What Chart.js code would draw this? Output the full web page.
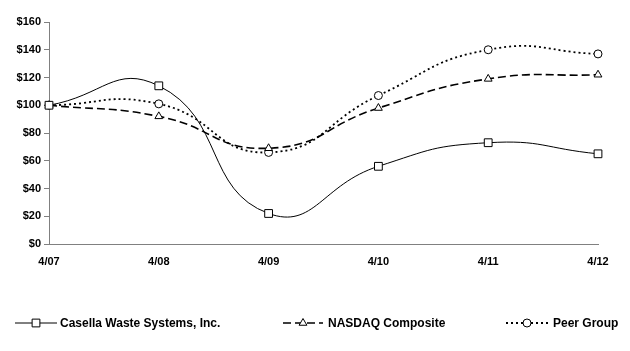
<!DOCTYPE html>
<html>
<head>
<meta charset="utf-8">
<script src="https://cdn.jsdelivr.net/npm/chart.js@4/dist/chart.umd.min.js"></script>
<style>
html,body{margin:0;padding:0;background:#fff;}
#wrap{width:630px;height:351px;position:relative;}
</style>
</head>
<body>
<div id="wrap"><canvas id="c" width="630" height="351"></canvas></div>
<script>
const categories = ["4/07", "4/08", "4/09", "4/10", "4/11", "4/12"];
const casella = [100, 114, 22, 56, 73, 65];
const nasdaq = [100, 92, 69, 98, 119, 122];
const peer = [100, 101, 66, 107, 140, 137];
const seriesNames = ["Casella Waste Systems, Inc.", "NASDAQ Composite", "Peer Group"];
const yTicks = [0, 20, 40, 60, 80, 100, 120, 140, 160];

const FONT = "'Liberation Sans', Arial, sans-serif";

const legendPlugin = {
  id: 'customLegend',
  afterDraw(chart) {
    const ctx = chart.ctx;
    const y = 323;
    const items = [
      {x0: 15, x1: 57, tx: 60},
      {x0: 283, x1: 323, tx: 328},
      {x0: 506, x1: 548, tx: 553}
    ];
    chart.data.datasets.forEach((ds, i) => {
      const it = items[i];
      ctx.save();
      ctx.strokeStyle = '#000';
      ctx.lineWidth = ds.borderWidth;
      ctx.setLineDash(ds.borderDash || []);
      ctx.beginPath();
      ctx.moveTo(it.x0, y);
      ctx.lineTo(it.x1, y);
      ctx.stroke();
      ctx.setLineDash([]);
      ctx.lineWidth = 1;
      ctx.fillStyle = '#fff';
      ctx.strokeStyle = '#000';
      Chart.helpers.drawPoint(ctx, {pointStyle: ds.pointStyle, radius: ds.pointRadius, rotation: 0, borderWidth: 1}, (it.x0 + it.x1) / 2, y);
      ctx.fillStyle = '#000';
      ctx.font = 'bold 12px ' + FONT;
      ctx.textBaseline = 'middle';
      ctx.textAlign = 'left';
      ctx.fillText(ds.label, it.tx, y + 1);
      ctx.restore();
    });
  }
};

new Chart(document.getElementById('c'), {
  type: 'line',
  data: {
    labels: categories,
    datasets: [
      {label: seriesNames[0], data: casella, borderColor: '#000', borderWidth: 1, pointStyle: 'rect', pointRadius: 5.5,
       pointBackgroundColor: '#fff', pointBorderColor: '#000', pointBorderWidth: 1, tension: 0.5, fill: false},
      {label: seriesNames[1], data: nasdaq, borderColor: '#000', borderWidth: 1.6, borderDash: [8, 4], pointStyle: 'triangle', pointRadius: 4.5,
       pointBackgroundColor: '#fff', pointBorderColor: '#000', pointBorderWidth: 1, tension: 0.5, fill: false},
      {label: seriesNames[2], data: peer, borderColor: '#000', borderWidth: 1.8, borderDash: [2, 3], pointStyle: 'circle', pointRadius: 4,
       pointBackgroundColor: '#fff', pointBorderColor: '#000', pointBorderWidth: 1, tension: 0.5, fill: false}
    ]
  },
  options: {
    responsive: false,
    animation: false,
    devicePixelRatio: 1,
    layout: {padding: {left: 0, right: 32, top: 22, bottom: 77}},
    plugins: {legend: {display: false}, tooltip: {enabled: false}},
    scales: {
      x: {
        offset: false,
        grid: {display: false, drawOnChartArea: false, drawTicks: true, tickLength: 5, tickColor: '#808080'},
        border: {display: true, color: '#808080', width: 1},
        ticks: {color: '#000', font: {family: FONT, size: 11, weight: 'bold'}, maxRotation: 0, autoSkip: false, padding: 6},
        afterFit(s) { s.height = 30; }
      },
      y: {
        min: 0, max: 160,
        afterBuildTicks(s) { s.ticks = yTicks.map(v => ({value: v})); },
        grid: {display: true, drawOnChartArea: false, drawTicks: true, tickLength: 5, tickColor: '#808080'},
        border: {display: true, color: '#808080', width: 1},
        ticks: {color: '#000', font: {family: FONT, size: 11, weight: 'bold'}, padding: 3, callback: v => '$' + v},
        afterFit(s) { s.width = 49; }
      }
    }
  },
  plugins: [legendPlugin]
});
</script>
</body>
</html>
